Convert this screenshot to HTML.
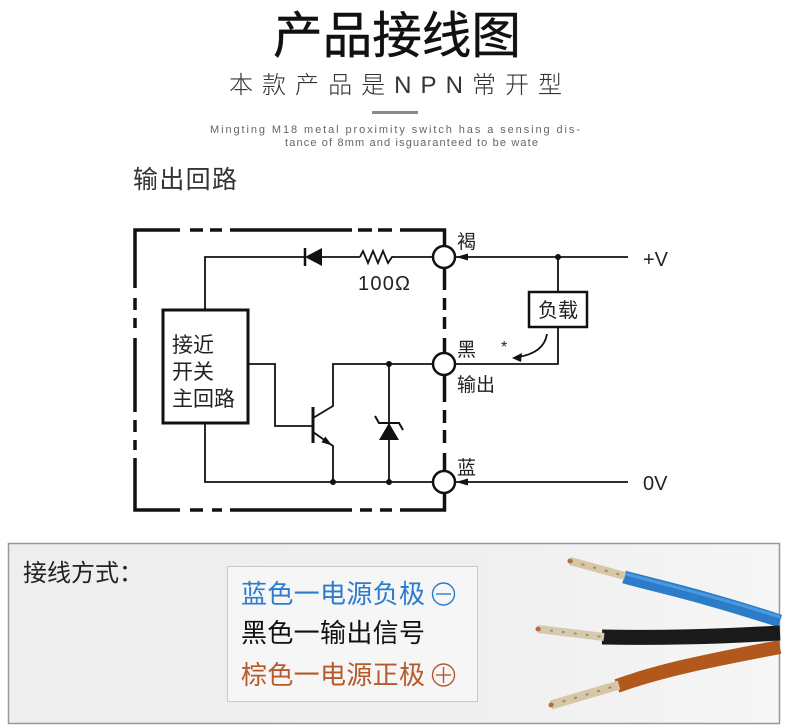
<!DOCTYPE html>
<html>
<head>
<meta charset="utf-8">
<style>
html,body{margin:0;padding:0;background:#fff;}
body{width:790px;height:728px;overflow:hidden;position:relative;}
svg{position:absolute;left:0;top:0;}
.cjk{font-family:"Liberation Sans","Noto Sans CJK SC",sans-serif;}
</style>
</head>
<body>
<svg width="790" height="728" viewBox="0 0 790 728" xmlns="http://www.w3.org/2000/svg">
  <defs>
    <linearGradient id="panelbg" x1="0" y1="0" x2="1" y2="0">
      <stop offset="0" stop-color="#eeeeee"/>
      <stop offset="0.6" stop-color="#efefef"/>
      <stop offset="1" stop-color="#f6f6f6"/>
    </linearGradient>
  </defs>

  <!-- Header -->
  <text x="273" y="53" class="cjk" font-size="50" fill="#111" textLength="248" lengthAdjust="spacingAndGlyphs" stroke="#111" stroke-width="0.4">产品接线图</text>
  <text x="229" y="93" class="cjk" font-size="24" font-weight="300" fill="#333" textLength="333" lengthAdjust="spacing">本款产品是NPN常开型</text>
  <rect x="372" y="111" width="46" height="3" fill="#8a8a8a"/>
  <text x="210" y="133" font-family="Liberation Sans, sans-serif" font-size="11" fill="#666" textLength="370" lengthAdjust="spacing">Mingting M18 metal proximity switch has a sensing dis-</text>
  <text x="285" y="146" font-family="Liberation Sans, sans-serif" font-size="11" fill="#666" textLength="253" lengthAdjust="spacing">tance of 8mm and isguaranteed to be wate</text>

  <text x="133" y="188" class="cjk" font-size="25" fill="#333" textLength="104" lengthAdjust="spacing">输出回路</text>

  <!-- Dashed enclosure -->
  <g stroke="#111" stroke-width="3.5" fill="none" stroke-linecap="butt">
    <polyline points="180,230 135,230 135,288"/>
    <line x1="190" y1="230" x2="203" y2="230"/>
    <line x1="210" y1="230" x2="222" y2="230"/>
    <line x1="230" y1="230" x2="352" y2="230"/>
    <line x1="358" y1="230" x2="372" y2="230"/>
    <line x1="378" y1="230" x2="392" y2="230"/>
    <polyline points="400,230 444.5,230 444.5,246"/>
    <line x1="135" y1="298" x2="135" y2="310"/>
    <line x1="135" y1="318" x2="135" y2="328"/>
    <line x1="135" y1="338" x2="135" y2="412"/>
    <line x1="135" y1="420" x2="135" y2="432"/>
    <line x1="135" y1="440" x2="135" y2="450"/>
    <polyline points="135,458 135,510 180,510"/>
    <line x1="190" y1="510" x2="203" y2="510"/>
    <line x1="212" y1="510" x2="222" y2="510"/>
    <line x1="230" y1="510" x2="352" y2="510"/>
    <line x1="360" y1="510" x2="372" y2="510"/>
    <line x1="380" y1="510" x2="392" y2="510"/>
    <polyline points="400,510 444.5,510 444.5,493"/>
    <line x1="444.5" y1="268" x2="444.5" y2="290"/>
    <line x1="444.5" y1="298" x2="444.5" y2="310"/>
    <line x1="444.5" y1="317" x2="444.5" y2="329"/>
    <line x1="444.5" y1="338" x2="444.5" y2="353"/>
    <line x1="444.5" y1="375" x2="444.5" y2="402"/>
    <line x1="444.5" y1="410" x2="444.5" y2="423"/>
    <line x1="444.5" y1="430" x2="444.5" y2="443"/>
    <line x1="444.5" y1="453" x2="444.5" y2="471"/>
  </g>

  <!-- wires -->
  <g stroke="#111" stroke-width="1.8" fill="none">
    <polyline points="205,310 205,257 305,257"/>
    <line x1="322" y1="257" x2="360" y2="257"/>
    <polyline points="360,257 363,251 368,263 373,251 378,263 383,251 388,263 392,257 433,257"/>
    <polyline points="205,423 205,482 433,482"/>
    <polyline points="248,364 275,364 275,426 313,426"/>
    <polyline points="313,418 333,406 333,364 433,364"/>
    <polyline points="313,432 333,446 333,482"/>
    <line x1="389" y1="364" x2="389" y2="482"/>
    <line x1="455" y1="257" x2="628" y2="257"/>
    <line x1="455" y1="482" x2="628" y2="482"/>
    <line x1="558" y1="257" x2="558" y2="292"/>
    <polyline points="558,327 558,364 455,364"/>
    <path d="M547,334 Q544,353 518,357"/>
  </g>

  <!-- diode -->
  <polygon points="305,257 322,248 322,266" fill="#111"/>
  <line x1="305" y1="248" x2="305" y2="266" stroke="#111" stroke-width="2.5"/>

  <!-- transistor -->
  <line x1="313" y1="407" x2="313" y2="443" stroke="#111" stroke-width="3"/>
  <polygon points="332,445.5 321.4,442.3 325.4,436.5" fill="#111"/>

  <!-- zener -->
  <polygon points="389,423 379,440 399,440" fill="#111"/>
  <polyline points="375,416 379,423 399,423 403,430" stroke="#111" stroke-width="2" fill="none"/>

  <!-- junction dots -->
  <g fill="#111">
    <circle cx="333" cy="482" r="3"/>
    <circle cx="389" cy="482" r="3"/>
    <circle cx="389" cy="364" r="3"/>
    <circle cx="558" cy="257" r="3"/>
  </g>

  <!-- terminals -->
  <g stroke="#111" stroke-width="2.5" fill="#fff">
    <circle cx="444" cy="257" r="11"/>
    <circle cx="444" cy="364" r="11"/>
    <circle cx="444" cy="482" r="11"/>
  </g>
  <polygon points="456,257 468,253.5 468,260.5" fill="#111"/>
  <polygon points="456,482 468,478.5 468,485.5" fill="#111"/>
  <polygon points="512,358 522,353 521,362" fill="#111"/>

  <!-- main circuit box -->
  <rect x="163" y="310" width="85" height="113" fill="#fff" stroke="#111" stroke-width="3"/>
  <g class="cjk" font-size="21" fill="#222">
    <text x="172" y="352">接近</text>
    <text x="172" y="379">开关</text>
    <text x="172" y="406">主回路</text>
  </g>

  <!-- load box -->
  <rect x="529" y="292" width="58" height="35" fill="#fff" stroke="#111" stroke-width="2.5"/>
  <text x="538" y="317" class="cjk" font-size="20" fill="#222">负载</text>

  <!-- labels -->
  <text x="358" y="290" font-family="Liberation Sans, sans-serif" font-size="20" fill="#222" textLength="52" lengthAdjust="spacing">100Ω</text>
  <g class="cjk" font-size="19" fill="#222">
    <text x="457" y="248">褐</text>
    <text x="457" y="356">黑</text>
    <text x="457" y="391">输出</text>
    <text x="457" y="474">蓝</text>
  </g>
  <text x="501" y="352" font-family="Liberation Sans, sans-serif" font-size="16" fill="#222">*</text>
  <text x="643" y="266" font-family="Liberation Sans, sans-serif" font-size="20" fill="#222">+V</text>
  <text x="643" y="490" font-family="Liberation Sans, sans-serif" font-size="20" fill="#222">0V</text>

  <!-- bottom panel -->
  <rect x="8.5" y="543.5" width="771" height="180" fill="url(#panelbg)" stroke="#999" stroke-width="1.5"/>
  <text x="23" y="581" class="cjk" font-size="24" fill="#222">接线方式：</text>

  <rect x="227.5" y="566.5" width="250" height="135" fill="#f6f6f6" stroke="#c9c9c9" stroke-width="1"/>
  <g class="cjk" font-size="26">
    <text x="241" y="603" fill="#2b7bd0" textLength="184" lengthAdjust="spacing">蓝色一电源负极</text>
    <text x="241" y="642" fill="#111" textLength="184" lengthAdjust="spacing">黑色一输出信号</text>
    <text x="241" y="684" fill="#b65a2d" textLength="184" lengthAdjust="spacing">棕色一电源正极</text>
  </g>
  <circle cx="443.5" cy="594" r="11" fill="none" stroke="#2b7bd0" stroke-width="1.4"/>
  <line x1="436" y1="594" x2="451" y2="594" stroke="#2b7bd0" stroke-width="1.4"/>
  <circle cx="443.5" cy="675" r="11" fill="none" stroke="#b65a2d" stroke-width="1.4"/>
  <line x1="436" y1="675" x2="451" y2="675" stroke="#b65a2d" stroke-width="1.4"/>
  <line x1="443.5" y1="667" x2="443.5" y2="683" stroke="#b65a2d" stroke-width="1.4"/>

  <!-- wires photo -->
  <g stroke-linecap="butt" fill="none">
    <!-- blue -->
    <path d="M624,577 C665,588 700,595 780,621" stroke="#2c7cc9" stroke-width="13"/>
    <path d="M626,574 C665,585 700,592 780,617" stroke="#4a9ae0" stroke-width="3"/>
    <path d="M570,561 L625,576" stroke="#d5c7a8" stroke-width="8"/>
    <path d="M570,561 L625,576" stroke="#a88e60" stroke-width="2" stroke-dasharray="3 9"/>
    <!-- brown -->
    <path d="M617,686 C655,672 700,662 780,647" stroke="#b2581c" stroke-width="14"/>
    <path d="M551,705 L619,685" stroke="#d5c7a8" stroke-width="9"/>
    <path d="M551,705 L619,685" stroke="#a88a5c" stroke-width="2" stroke-dasharray="3 9"/>
    <!-- black -->
    <path d="M602,637 C660,638 710,637 780,633" stroke="#1a1a1a" stroke-width="15"/>
    <path d="M538,629 L604,637" stroke="#d5c9b0" stroke-width="8"/>
    <path d="M538,629 L604,637" stroke="#a89070" stroke-width="2" stroke-dasharray="3 9"/>
  </g>
  <g fill="#b86a40">
    <circle cx="570" cy="561" r="2.5"/>
    <circle cx="538" cy="629" r="2.5"/>
    <circle cx="551" cy="705" r="2.5"/>
  </g>
</svg>
</body>
</html>
